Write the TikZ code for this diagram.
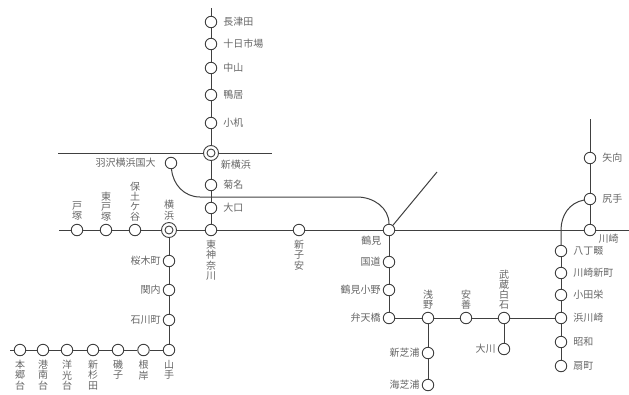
\documentclass[tikz,border=0pt]{standalone}
\usepackage{fontspec}
\setmainfont{Noto Sans CJK JP}
\usetikzlibrary{positioning}

\begin{document}
\begin{tikzpicture}[
    on grid,
    station/.style={circle, draw=black!75, fill=white, line width=0.9pt, inner sep=0pt, minimum size=11.5pt},
    bigstation/.style={circle, draw=black!75, fill=white, line width=0.9pt, inner sep=0pt, minimum size=15pt},
    innerring/.style={circle, draw=black!75, line width=0.9pt, inner sep=0pt, minimum size=8pt},
    stationname/.style={on grid=false, inner sep=0pt, text=black!60, align=center, font=\fontsize{10}{10.2}\selectfont},
    rail/.style={draw=black!75, line width=1pt},
    ]
    \useasboundingbox (0pt,0pt) rectangle (629pt,-394pt);
    %Nodes
    \node[station]      (nagatsuta)  at (211pt,-22pt) {};
    \node[station]      (tokaichiba) [below=22pt of nagatsuta] {};
    \node[station]      (nakayama)   [below=24pt of tokaichiba] {};
    \node[station]      (kamoi)      [below=27pt of nakayama] {};
    \node[station]      (kozukue)    [below=28pt of kamoi] {};
    \node[bigstation]   (shinyokohama) [below=30pt of kozukue] {};
    \node[innerring]    (shinyokohamain) at (shinyokohama) {};
    \node[station]      (kikuna)     [below=32pt of shinyokohama] {};
    \node[station]      (oguchi)     [below=23pt of kikuna] {};
    \node[station]      (higashikanagawa) [below=22pt of oguchi] {};
    \node[station]      (hazawa)     [below left=10pt and 40pt of shinyokohama] {};

    \node[bigstation]   (yokohama)   [left=42pt of higashikanagawa] {};
    \node[innerring]    (yokohamain) at (yokohama) {};
    \node[station]      (hodogaya)   [left=34pt of yokohama] {};
    \node[station]      (higashitotsuka) [left=29pt of hodogaya] {};
    \node[station]      (totsuka)    [left=29pt of higashitotsuka] {};
    \node[station]      (shinkoyasu) [right=88pt of higashikanagawa] {};
    \node[station]      (tsurumi)    [right=90pt of shinkoyasu] {};
    \node[station]      (kawasaki)   [right=201pt of tsurumi] {};
    \node[station]      (shirite)    [above=31pt of kawasaki] {};
    \node[station]      (yako)       [above=41pt of shirite] {};

    \node[station]      (sakuragicho) [below=31pt of yokohama] {};
    \node[station]      (kannai)     [below=29pt of sakuragicho] {};
    \node[station]      (ishikawacho) [below=30pt of kannai] {};
    \node[station]      (yamate)     [below=30pt of ishikawacho] {};
    \node[station]      (negishi)    [left=25.5pt of yamate] {};
    \node[station]      (isogo)      [left=25.5pt of negishi] {};
    \node[station]      (shinsugita) [left=25pt of isogo] {};
    \node[station]      (yokodai)    [left=26pt of shinsugita] {};
    \node[station]      (konandai)   [left=24pt of yokodai] {};
    \node[station]      (hongodai)   [left=23pt of konandai] {};

    \node[station]      (kokudo)     [below=32pt of tsurumi] {};
    \node[station]      (tsurumiono) [below=28pt of kokudo] {};
    \node[station]      (bentenbashi) [below=28pt of tsurumiono] {};
    \node[station]      (asano)      [right=39pt of bentenbashi] {};
    \node[station]      (anzen)      [right=38pt of asano] {};
    \node[station]      (shiraishi)  [right=38pt of anzen] {};
    \node[station]      (okawa)      [below=31pt of shiraishi] {};
    \node[station]      (shinshibaura) [below=35pt of asano] {};
    \node[station]      (umishibaura) [below=32pt of shinshibaura] {};

    \node[station]      (hatchonawate) [below left=21pt and 29pt of kawasaki] {};
    \node[station]      (shinmachi)  [below=22pt of hatchonawate] {};
    \node[station]      (odasakae)   [below=22pt of shinmachi] {};
    \node[station]      (hamakawasaki) [below=23pt of odasakae] {};
    \node[station]      (showa)      [below=24pt of hamakawasaki] {};
    \node[station]      (ogimachi)   [below=24pt of showa] {};

    %Names
    \node[stationname]  (nagatsutan)  [right=6pt of nagatsuta] {長津田};
    \node[stationname]  (tokaichiban) [right=6pt of tokaichiba] {十日市場};
    \node[stationname]  (nakayaman)   [right=6pt of nakayama] {中山};
    \node[stationname]  (kamoin)      [right=6pt of kamoi] {鴨居};
    \node[stationname]  (kozukuen)    [right=6pt of kozukue] {小机};
    \node[stationname]  (shinyokohaman) [below right=1.5pt and 4pt of shinyokohama] {新横浜};
    \node[stationname]  (kikunan)     [right=6pt of kikuna] {菊名};
    \node[stationname]  (oguchin)     [right=6pt of oguchi] {大口};
    \node[stationname]  (higashikanagawan) [below=4pt of higashikanagawa] {東\\神\\奈\\川};
    \node[stationname]  (hazawan)     [left=9pt of hazawa] {羽沢横浜国大};

    \node[stationname]  (yokohaman)   [above=2pt of yokohama] {横\\浜};
    \node[stationname]  (hodogayan)   [above=2pt of hodogaya] {保\\土\\ケ\\谷};
    \node[stationname]  (higashitotsukan) [above=2pt of higashitotsuka] {東\\戸\\塚};
    \node[stationname]  (totsukan)    [above=3pt of totsuka] {戸\\塚};
    \node[stationname]  (shinkoyasun) [below=4pt of shinkoyasu] {新\\子\\安};
    \node[stationname]  (tsuruminn)   [below left=1.5pt and 3pt of tsurumi] {鶴見};
    \node[stationname]  (kawasakin)   [below right=-0.5pt and 4pt of kawasaki] {川崎};
    \node[stationname]  (shiriten)    [right=6pt of shirite] {尻手};
    \node[stationname]  (yakon)       [right=6pt of yako] {矢向};

    \node[stationname]  (sakuragichon) [left=2pt of sakuragicho] {桜木町};
    \node[stationname]  (kannain)     [left=2pt of kannai] {関内};
    \node[stationname]  (ishikawachon) [left=2pt of ishikawacho] {石川町};
    \node[stationname]  (yamaten)     [below=4pt of yamate] {山\\手};
    \node[stationname]  (negishin)    [below=4pt of negishi] {根\\岸};
    \node[stationname]  (isogon)      [below=4pt of isogo] {磯\\子};
    \node[stationname]  (shinsugitan) [below=4pt of shinsugita] {新\\杉\\田};
    \node[stationname]  (yokodain)    [below=4pt of yokodai] {洋\\光\\台};
    \node[stationname]  (konandain)   [below=4pt of konandai] {港\\南\\台};
    \node[stationname]  (hongodain)   [below=4pt of hongodai] {本\\郷\\台};

    \node[stationname]  (kokudon)     [left=2pt of kokudo] {国道};
    \node[stationname]  (tsurumionon) [left=2pt of tsurumiono] {鶴見小野};
    \node[stationname]  (bentenbashin) [left=2pt of bentenbashi] {弁天橋};
    \node[stationname]  (asanon)      [above=2pt of asano] {浅\\野};
    \node[stationname]  (anzenn)      [above=2pt of anzen] {安\\善};
    \node[stationname]  (shiraishin)  [above=2pt of shiraishi] {武\\蔵\\白\\石};
    \node[stationname]  (okawan)      [left=2pt of okawa] {大川};
    \node[stationname]  (shinshibauran) [left=2pt of shinshibaura] {新芝浦};
    \node[stationname]  (umishibauran) [left=2pt of umishibaura] {海芝浦};

    \node[stationname]  (hatchonawaten) [right=6pt of hatchonawate] {八丁畷};
    \node[stationname]  (shinmachin)  [right=6pt of shinmachi] {川崎新町};
    \node[stationname]  (odasakaen)   [right=6pt of odasakae] {小田栄};
    \node[stationname]  (hamakawasakin) [right=6pt of hamakawasaki] {浜川崎};
    \node[stationname]  (showan)      [right=6pt of showa] {昭和};
    \node[stationname]  (ogimachin)   [right=6pt of ogimachi] {扇町};

    %Free ends
    \coordinate[above=14pt of nagatsuta] (topend);
    \coordinate[left=153pt of shinyokohama] (crossleft);
    \coordinate[right=61pt of shinyokohama] (crossright);
    \coordinate[left=18pt of totsuka] (mainleft);
    \coordinate (mainright) at (629pt,-230pt);
    \coordinate[above=39pt of yako] (yakoend);
    \coordinate[left=10pt of hongodai] (hongoend);
    \coordinate[above right=58pt and 48pt of tsurumi] (diagend);
    \coordinate (turnleft) at (200pt,-197pt);
    \coordinate (turnright) at (357pt,-197pt);
    \coordinate[above=21pt of hatchonawate] (turnhatcho);

    %Lines
    \draw[rail] (topend) -- (nagatsuta);
    \draw[rail] (nagatsuta) -- (tokaichiba);
    \draw[rail] (tokaichiba) -- (nakayama);
    \draw[rail] (nakayama) -- (kamoi);
    \draw[rail] (kamoi) -- (kozukue);
    \draw[rail] (kozukue) -- (shinyokohama);
    \draw[rail] (shinyokohama) -- (kikuna);
    \draw[rail] (kikuna) -- (oguchi);
    \draw[rail] (oguchi) -- (higashikanagawa);
    \draw[rail] (crossleft) -- (shinyokohama);
    \draw[rail] (shinyokohama) -- (crossright);
    \draw[rail] (hazawa) to[out=-85, in=180] (turnleft) -- (turnright) to[out=0, in=90] (tsurumi);

    \draw[rail] (mainleft) -- (totsuka);
    \draw[rail] (totsuka) -- (higashitotsuka);
    \draw[rail] (higashitotsuka) -- (hodogaya);
    \draw[rail] (hodogaya) -- (yokohama);
    \draw[rail] (yokohama) -- (higashikanagawa);
    \draw[rail] (higashikanagawa) -- (shinkoyasu);
    \draw[rail] (shinkoyasu) -- (tsurumi);
    \draw[rail] (tsurumi) -- (kawasaki);
    \draw[rail] (kawasaki) -- (mainright);
    \draw[rail] (tsurumi) -- (diagend);
    \draw[rail] (yakoend) -- (yako);
    \draw[rail] (yako) -- (shirite);
    \draw[rail] (shirite) -- (kawasaki);
    \draw[rail] (shirite) to[out=190, in=90] (turnhatcho) -- (hatchonawate);

    \draw[rail] (yokohama) -- (sakuragicho);
    \draw[rail] (sakuragicho) -- (kannai);
    \draw[rail] (kannai) -- (ishikawacho);
    \draw[rail] (ishikawacho) -- (yamate);
    \draw[rail] (yamate) -- (negishi);
    \draw[rail] (negishi) -- (isogo);
    \draw[rail] (isogo) -- (shinsugita);
    \draw[rail] (shinsugita) -- (yokodai);
    \draw[rail] (yokodai) -- (konandai);
    \draw[rail] (konandai) -- (hongodai);
    \draw[rail] (hongodai) -- (hongoend);

    \draw[rail] (tsurumi) -- (kokudo);
    \draw[rail] (kokudo) -- (tsurumiono);
    \draw[rail] (tsurumiono) -- (bentenbashi);
    \draw[rail] (bentenbashi) -- (asano);
    \draw[rail] (asano) -- (anzen);
    \draw[rail] (anzen) -- (shiraishi);
    \draw[rail] (shiraishi) -- (hamakawasaki);
    \draw[rail] (shiraishi) -- (okawa);
    \draw[rail] (asano) -- (shinshibaura);
    \draw[rail] (shinshibaura) -- (umishibaura);

    \draw[rail] (hatchonawate) -- (shinmachi);
    \draw[rail] (shinmachi) -- (odasakae);
    \draw[rail] (odasakae) -- (hamakawasaki);
    \draw[rail] (hamakawasaki) -- (showa);
    \draw[rail] (showa) -- (ogimachi);

\end{tikzpicture}
\end{document}
